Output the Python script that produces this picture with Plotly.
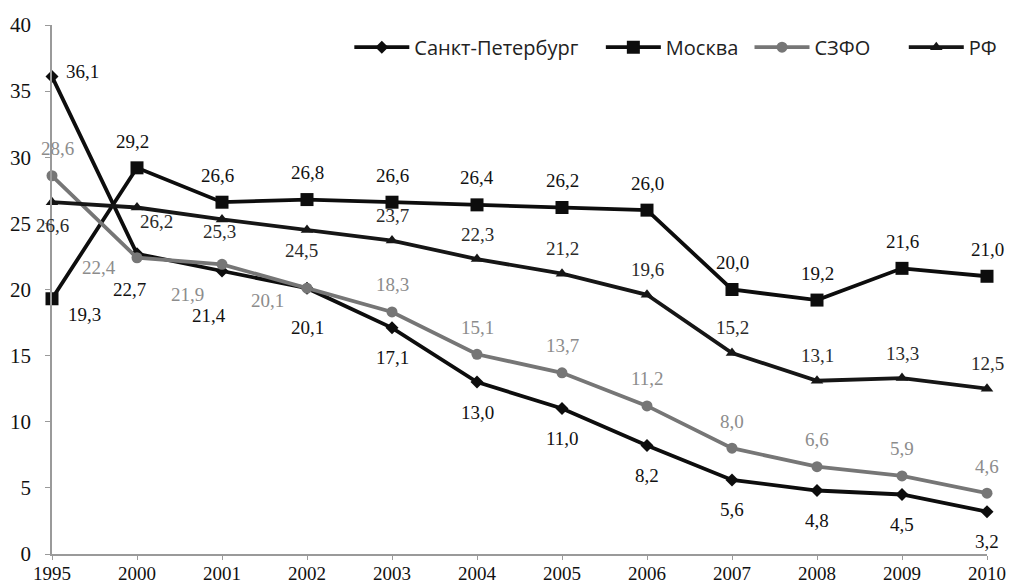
import plotly.graph_objects as go

years = ["1995", "2000", "2001", "2002", "2003", "2004", "2005", "2006", "2007", "2008", "2009", "2010"]
spb = [36.1, 22.7, 21.4, 20.1, 17.1, 13.0, 11.0, 8.2, 5.6, 4.8, 4.5, 3.2]
moscow = [19.3, 29.2, 26.6, 26.8, 26.6, 26.4, 26.2, 26.0, 20.0, 19.2, 21.6, 21.0]
szfo = [28.6, 22.4, 21.9, 20.1, 18.3, 15.1, 13.7, 11.2, 8.0, 6.6, 5.9, 4.6]
rf = [26.6, 26.2, 25.3, 24.5, 23.7, 22.3, 21.2, 19.6, 15.2, 13.1, 13.3, 12.5]

# label pixel offsets (dx, dy) relative to each point
spb_off = [(30, 5), (-8, -36), (-13, -45), (0, -39)] + [(0, -30)] * 8
moscow_off = [(32, -16), (-5, 26), (-5, 27)] + [(0, 27)] * 9
szfo_off = [(5, 27), (-38, -10), (-35, -30), (-40, -12)] + [(0, 27)] * 8
rf_off = [(0, -23), (19, -14), (-3, -12), (-6, -21)] + [(0, 25)] * 8

def fmt(v):
    return f"{v:.1f}".replace(".", ",")

xi = list(range(len(years)))
serif = "Liberation Serif, Times New Roman, serif"
fig = go.Figure()

def add(name, vals, offs, color, tcolor, symbol, msize, leg, lx):
    fig.add_trace(go.Scatter(
        x=xi, y=vals, name=name, mode="lines+markers",
        line=dict(color=color, width=3.8),
        marker=dict(symbol=symbol, size=msize, color=color),
        cliponaxis=False, legend=leg,
    ))
    for xv, yv, (dx, dy) in zip(xi, vals, offs):
        fig.add_annotation(x=xv, y=yv, xref="x", yref="y", text=fmt(yv), showarrow=False,
                           xshift=dx, yshift=dy,
                           font=dict(family=serif, size=19, color=tcolor))
    fig.update_layout({leg: dict(orientation="h", x=lx, xanchor="left", y=0.958, yanchor="middle",
                                 font=dict(family="Open Sans, Noto Sans, sans-serif", size=20, color="#222"),
                                 itemwidth=55, bgcolor="rgba(0,0,0,0)", borderwidth=0)})

add("Санкт-Петербург", spb, spb_off, "#0d0d0d", "#111111", "diamond", 10, "legend", 0.318)
add("Москва", moscow, moscow_off, "#0d0d0d", "#111111", "square", 13, "legend2", 0.587)
add("СЗФО", szfo, szfo_off, "#767676", "#8c8c8c", "circle", 11, "legend3", 0.746)
add("РФ", rf, rf_off, "#161616", "#2a2a2a", "triangle-up", 11, "legend4", 0.911)

fig.update_layout(
    width=1014, height=586,
    margin=dict(l=52, r=21, t=25, b=32),
    paper_bgcolor="white", plot_bgcolor="white",
    showlegend=True,
)
fig.update_xaxes(range=[0, 11], tickvals=xi, ticktext=years, showline=True, linecolor="#9a9a9a", linewidth=1.5,
                 ticks="outside", ticklen=4, tickcolor="#9a9a9a", showgrid=False, zeroline=False, automargin=False,
                 ticklabelstandoff=-3,
                 tickfont=dict(family=serif, size=19, color="#111"))
fig.update_yaxes(range=[0, 40], dtick=5, showline=True, linecolor="#9a9a9a", linewidth=1.5,
                 ticks="outside", ticklen=5, tickcolor="#9a9a9a", showgrid=False, zeroline=False,
                 automargin=False, ticklabelstandoff=10,
                 tickfont=dict(family=serif, size=21, color="#111"))

fig.write_html("out.html", config={"displayModeBar": False},
               post_script="document.body.style.margin='0';document.body.style.overflow='hidden';")
